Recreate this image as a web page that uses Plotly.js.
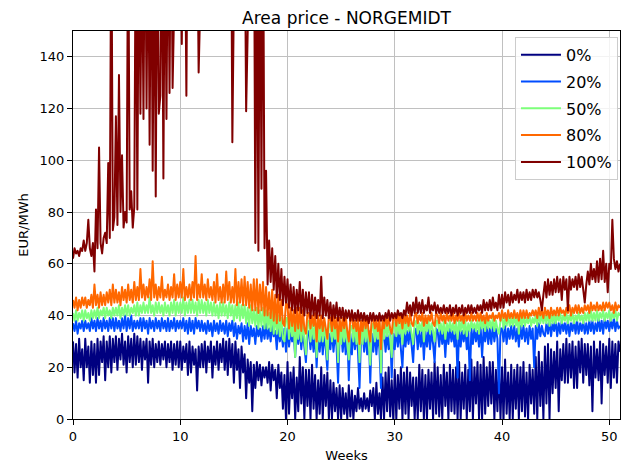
<!DOCTYPE html>
<html>
<head>
<meta charset="utf-8">
<script src="https://cdn.plot.ly/plotly-3.0.1.min.js"></script>
<style>
  html, body { margin: 0; padding: 0; background: #ffffff; }
  #chart { width: 621px; height: 463px; }
</style>
</head>
<body>
<div id="chart"></div>
<script>
// Area price profile for NORGEMIDT, one sample per day (EUR/MWh); x is in weeks.
const DAYS_PER_WEEK = 7;

const seriesNames = ['0%', '20%', '50%', '80%', '100%'];
const seriesColors = ['#000080', '#004cff', '#7dff7a', '#ff6800', '#800000'];
const xTicks = [0, 10, 20, 30, 40, 50];
const yTicks = [0, 20, 40, 60, 80, 100, 120, 140];

// one row of seven daily values per week
const price0 = [
  30,18,29,16,31,20,27, 15,31,20,28,14,30,17, 29,14,31,17,30,22,32, 15,30,20,32,18,31,22, 32,19,31,23,33,21,30,
  18,32,22,31,20,33,21, 32,22,31,19,30,23,31, 14,30,21,31,20,29,22, 30,21,29,23,30,20,29, 22,30,19,29,21,30,20,
  30,19,28,22,29,17,30, 18,28,21,27,11,28,20, 29,20,30,18,28,22,30, 16,28,21,30,19,29,22, 31,19,30,17,31,20,29,
  14,30,19,27,12,28,18, 25,8,23,14,22,3,21, 12,22,15,21,13,20,16, 20,14,22,11,21,15,19, 8,21,12,18,4,17,0,
  22,2,18,8,20,0,16, 3,24,6,20,0,19,5, 19,0,21,4,17,0,15, 2,20,0,17,5,18,0, 15,0,14,3,12,0,13,
  0,12,2,10,0,13,1, 11,0,9,3,12,4,8, 3,10,4,8,3,11,5, 12,0,14,2,10,0,16, 0,18,3,20,1,15,0,
  19,0,17,4,20,0,18, 2,20,0,18,5,16,0, 16,0,21,3,19,0,17, 0,19,4,18,0,22,2, 20,1,17,0,21,5,18,
  0,21,3,19,2,20,0, 22,0,18,4,21,0,19, 3,23,0,20,6,22,0, 21,0,24,2,20,5,22, 6,22,0,19,3,21,0,
  20,0,23,2,18,0,21, 0,19,4,21,0,20,3, 22,1,18,0,21,6,19, 2,24,0,26,5,22,0, 28,6,29,0,27,10,26,
  12,30,3,27,15,29,14, 31,14,29,16,30,12,28, 12,30,18,31,14,29,17, 29,13,28,3,30,16,27, 15,30,6,29,17,28,14,
  31,12,30,16,29,14,30, 26
];

const price20 = [
  37,34,38,33,37,35,38, 34,38,35,37,34,39,35, 38,34,39,35,38,34,39, 35,38,34,39,35,39,34, 39,35,38,34,39,35,40,
  34,39,35,40,34,38,35, 38,35,39,34,39,35,38, 33,39,35,38,34,39,35, 38,34,39,35,38,34,39, 34,38,35,39,34,38,35,
  38,35,39,34,38,33,39, 34,38,33,39,35,38,34, 38,34,37,33,38,34,37, 32,38,34,37,33,38,34, 37,33,38,32,37,34,38,
  32,37,31,36,33,37,30, 36,31,37,29,36,32,35, 29,36,32,35,30,36,31, 37,31,35,30,36,32,34, 27,36,30,34,28,35,26,
  35,28,34,30,33,24,34, 29,35,27,34,28,22,33, 34,27,33,26,34,20,33, 26,34,25,33,27,19,33, 27,34,26,33,28,14,32,
  34,26,33,25,34,15,33, 25,34,27,33,26,12,32, 34,26,33,25,34,14,33, 26,34,25,33,27,12,32, 34,26,33,27,34,16,33,
  27,35,28,34,26,20,34, 28,34,29,35,27,22,34, 35,27,34,28,35,23,34, 28,35,27,34,29,22,35, 34,28,35,29,34,24,35,
  29,35,30,34,28,35,16, 35,28,34,30,35,27,34, 15,35,29,35,30,34,28, 36,24,35,30,36,29,35, 29,36,30,35,31,10,35,
  35,30,36,29,35,31,36, 31,36,30,35,28,36,31, 36,30,35,29,36,31,35, 20,36,31,37,32,36,33, 32,37,33,38,32,37,34,
  38,32,37,33,38,34,37, 33,38,32,37,34,38,33, 38,33,37,34,38,33,37, 33,38,34,38,33,37,34, 39,34,38,33,39,35,38,
  34,38,35,39,34,38,35, 36
];

const price50 = [
  41,38,42,38,41,39,42, 38,42,39,41,38,42,39, 42,39,43,39,42,40,43, 39,43,40,42,39,43,40, 43,40,44,39,43,40,44,
  40,44,40,43,41,44,40, 45,40,44,41,45,41,44, 41,47,41,44,40,45,41, 45,41,44,40,45,41,44, 40,45,41,46,40,45,41,
  45,41,47,40,45,41,46, 41,46,41,45,40,46,41, 46,41,45,40,46,41,45, 40,45,40,44,39,45,40, 45,40,44,39,45,40,44,
  38,44,39,45,38,44,39, 44,37,43,36,44,37,42, 36,43,35,42,36,43,35, 42,35,41,34,42,33,41, 33,40,32,39,31,30,39,
  39,31,38,32,38,24,37, 31,38,30,37,31,25,37, 38,30,37,31,37,24,36, 30,37,30,36,31,23,37, 37,30,36,31,37,22,36,
  29,37,30,36,29,23,36, 36,30,37,29,36,22,37, 29,37,30,36,29,21,36, 37,30,36,31,37,18,36, 31,37,32,37,31,24,37,
  37,32,38,33,37,29,38, 33,38,34,37,33,29,37, 38,33,37,34,38,30,37, 34,38,33,37,34,30,38, 38,34,37,33,38,31,37,
  34,38,34,37,33,38,31, 38,34,39,33,38,32,37, 34,38,35,37,34,38,33, 39,35,38,34,39,35,38, 35,39,34,38,35,33,38,
  40,35,39,36,40,36,39, 36,40,36,39,33,40,36, 40,36,39,37,40,36,39, 37,40,36,41,37,40,37, 40,37,41,36,40,37,41,
  37,40,38,41,37,40,38, 41,37,40,38,41,37,40, 38,41,38,40,37,41,38, 41,38,42,38,41,38,42, 38,41,39,42,38,41,39,
  42,38,41,39,42,38,41, 40
];

const price80 = [
  46,43,47,42,46,43,47, 44,47,43,46,44,48,43, 52,44,48,43,49,44,48, 44,49,45,50,44,52,45, 50,45,49,44,51,46,50,
  45,52,46,50,45,53,46, 51,46,58,47,52,46,51, 47,54,46,61,47,52,46, 51,47,55,46,50,47,52, 46,51,47,56,46,52,47,
  53,47,58,46,51,47,52, 46,53,47,63,46,52,47, 56,47,52,46,54,47,51, 46,53,45,56,46,51,45, 52,45,57,46,53,45,51,
  45,58,44,53,45,54,44, 55,44,53,43,52,42,54, 42,54,41,52,42,53,40, 51,40,49,39,50,38,48, 37,48,38,46,37,36,45,
  44,35,43,36,42,34,43, 35,43,34,42,35,33,41, 41,35,40,36,41,30,40, 35,40,34,39,35,31,40, 39,34,40,35,39,30,39,
  34,39,35,40,34,30,39, 39,35,38,34,39,29,38, 34,40,35,39,34,30,39, 39,35,38,34,39,27,38, 35,40,36,39,35,33,39,
  40,36,41,37,40,35,41, 37,40,36,41,37,36,40, 41,37,40,38,41,36,40, 37,40,38,41,37,36,41, 40,37,41,38,40,37,41,
  38,40,38,41,37,40,38, 41,38,40,37,41,38,40, 38,41,38,40,38,41,38, 41,38,40,37,41,38,40, 39,41,38,40,39,41,38,
  42,39,41,38,42,39,41, 39,42,39,41,38,42,39, 42,39,42,39,41,40,42, 40,42,39,43,40,42,39, 43,40,42,39,43,40,42,
  40,43,40,43,41,42,40, 43,41,44,40,43,41,44, 41,44,41,43,41,44,42, 44,41,45,42,44,42,45, 42,44,42,45,42,45,43,
  45,42,44,41,45,42,44, 43
];

// values above the 150 axis limit are off the top of the chart
const price100 = [
  62,66,64,65,63,66,65, 69,65,68,77,66,63,68, 57,81,66,105,68,64,70, 72,68,99,70,200,73,78, 117,75,133,80,102,74,80,
  76,200,81,88,74,82,200, 81,200,118,190,116,210,120, 200,106,200,96,190,86,200, 118,125,200,93,200,116,200, 126,210,128,200,190,220,200,
  200,145,210,200,125,220,200, 200,210,190,220,200,134,210, 200,210,190,220,200,230,210, 200,230,210,190,220,200,210, 220,200,210,190,200,220,107,
  200,220,190,210,200,230,210, 200,119,143,200,210,200,220, 68,200,65,200,89,210,66, 96,52,69,53,66,50,63, 47,60,46,58,44,55,45,
  54,43,52,42,51,41,50, 42,53,41,50,40,49,41, 49,39,48,40,47,39,46, 40,55,39,47,40,46,39, 45,38,44,39,45,38,43,
  39,43,38,42,39,42,38, 42,38,41,38,42,38,41, 38,41,38,40,37,41,38, 41,38,40,38,41,38,40, 38,41,39,42,38,41,39,
  41,39,42,40,41,39,42, 40,45,41,44,40,45,41, 47,41,45,41,46,41,44, 42,47,41,44,42,45,41, 44,41,43,41,44,41,43,
  41,44,40,43,41,44,40, 43,41,44,40,43,41,44, 41,44,41,43,41,44,42, 44,41,46,42,45,42,46, 42,47,43,45,42,48,43,
  48,43,49,45,48,44,49, 45,48,46,50,45,49,46, 49,45,50,46,49,46,50, 47,50,47,49,46,42,48, 53,47,54,48,53,48,54,
  49,55,49,54,46,55,50, 54,42,55,50,54,51,55, 50,56,51,55,50,45,52, 57,52,60,54,58,53,61, 53,62,54,65,53,60,49,
  60,58,77,62,58,61,57, 60
];

const allSeries = [price0, price20, price50, price80, price100];

const traces = allSeries.map((values, i) => ({
  type: 'scatter',
  mode: 'lines',
  name: seriesNames[i],
  legendgroup: seriesNames[i],
  x: values.map((_, d) => d / DAYS_PER_WEEK),
  y: values,
  line: { color: seriesColors[i], width: 2 },
  hoverinfo: 'skip'
}));

const axisCommon = {
  showgrid: true,
  gridcolor: '#c0c0c0',
  gridwidth: 1,
  zeroline: false,
  showline: true,
  mirror: true,
  linecolor: '#000000',
  linewidth: 1,
  ticks: 'outside',
  ticklen: 5,
  tickwidth: 1,
  tickcolor: '#000000',
  tickfont: { size: 13, color: '#000000' }
};

const layout = {
  width: 621,
  height: 463,
  margin: { l: 73, r: 1, t: 31, b: 44 },
  paper_bgcolor: '#ffffff',
  plot_bgcolor: '#ffffff',
  font: { family: 'DejaVu Sans, sans-serif', size: 13, color: '#000000' },
  title: {
    text: 'Area price - NORGEMIDT',
    font: { size: 17, color: '#000000' },
    x: 0.5, xref: 'paper', xanchor: 'center',
    y: 0.96, yref: 'container', yanchor: 'middle'
  },
  xaxis: Object.assign({}, axisCommon, {
    range: [0, 51],
    tickvals: xTicks,
    title: { text: 'Weeks', font: { size: 13 }, standoff: 8 }
  }),
  yaxis: Object.assign({}, axisCommon, {
    range: [0, 150],
    tickvals: yTicks,
    title: { text: 'EUR/MWh', font: { size: 13 }, standoff: 8 }
  }),
  showlegend: true,
  legend: {
    x: 0.808, y: 0.985, xanchor: 'left', yanchor: 'top',
    bgcolor: 'rgba(255,255,255,0.8)',
    bordercolor: '#cccccc',
    borderwidth: 1,
    itemwidth: 40,
    font: { size: 16, color: '#000000' },
    tracegroupgap: 3
  }
};

Plotly.newPlot('chart', traces, layout, { displayModeBar: false, staticPlot: true }).then(() => {
  // round joins keep the dense zigzags from overshooting at sharp turns
  document.querySelectorAll('.scatterlayer path.js-line').forEach(p => {
    p.style.strokeLinejoin = 'round';
  });
});
</script>
</body>
</html>
